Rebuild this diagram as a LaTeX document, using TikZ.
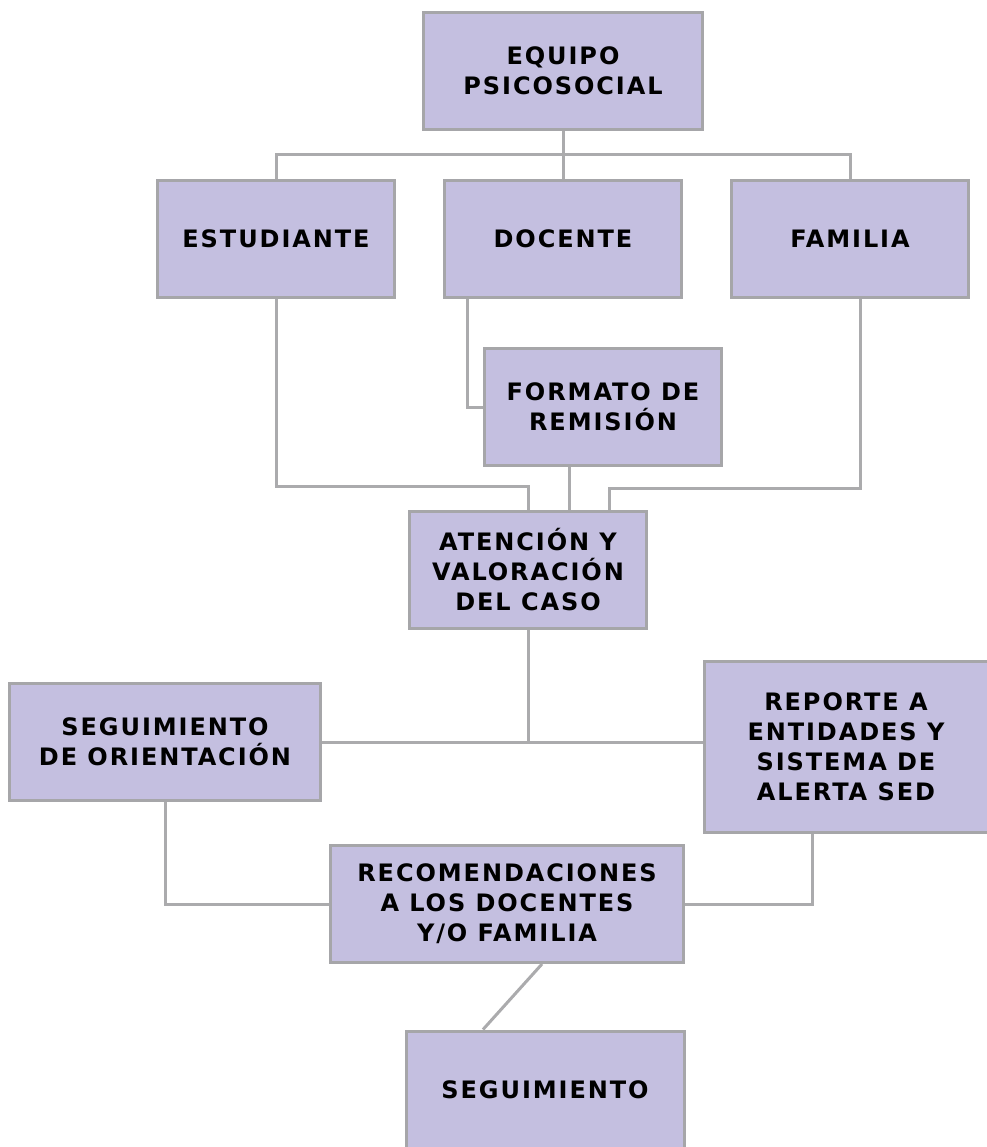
\documentclass[tikz,border=0pt]{standalone}
\usepackage{fontspec}
\newfontfamily\boxfont[LetterSpace=8]{DejaVu Sans}
\definecolor{boxfill}{HTML}{C4BFE0}
\definecolor{boxline}{HTML}{A6A6A9}
\definecolor{linkgray}{HTML}{ABABAD}
\begin{document}
\begin{tikzpicture}[x=1pt,y=-1pt,
    box/.style={draw=boxline,fill=boxfill,line width=3pt,align=center,
      inner sep=0pt,font=\boxfont\bfseries\fontsize{24}{30}\selectfont},
    link/.style={draw=linkgray,line width=3pt}]
  \fill[white] (0,0) rectangle (986,1147);
  \useasboundingbox (0,0) rectangle (986,1147);
  % boxes
  \node[box,minimum width=279pt,minimum height=117pt] (equipo) at (563,71) {EQUIPO\\PSICOSOCIAL};
  \node[box,minimum width=237pt,minimum height=117pt] (estudiante) at (276,239) {ESTUDIANTE};
  \node[box,minimum width=237pt,minimum height=117pt] (docente) at (563,239) {DOCENTE};
  \node[box,minimum width=237pt,minimum height=117pt] (familia) at (850,239) {FAMILIA};
  \node[box,minimum width=237pt,minimum height=117pt] (formato) at (603,407) {FORMATO DE\\REMISIÓN};
  \node[box,minimum width=237pt,minimum height=117pt] (atencion) at (528,570) {ATENCIÓN Y\\VALORACIÓN\\DEL CASO};
  \node[box,minimum width=311pt,minimum height=117pt] (orientacion) at (165,742) {SEGUIMIENTO\\DE ORIENTACIÓN};
  \node[box,minimum width=284pt,minimum height=171pt] (reporte) at (846,747) {REPORTE A\\ENTIDADES Y\\SISTEMA DE\\ALERTA SED};
  \node[box,minimum width=353pt,minimum height=117pt] (recomend) at (507,904) {RECOMENDACIONES\\A LOS DOCENTES\\Y/O FAMILIA};
  \node[box,minimum width=278pt,minimum height=118pt] (seguim) at (545,1090) {SEGUIMIENTO};
  % junctions
  \coordinate (bus) at (563,155);
  \coordinate (jl) at (528,486);
  \coordinate (jm) at (569,0);
  \coordinate (jr) at (609,488);
  % connectors
  \begin{scope}[link]
    \draw (equipo.south) -- (docente.north);
    \draw (estudiante.north) |- (bus) -| (familia.north);
    \draw ([xshift=24pt]docente.south west) |- (formato.west);
    \draw (estudiante.south) |- (jl) -- (jl |- atencion.north);
    \draw (formato.south -| jm) -- (atencion.north -| jm);
    \draw ([xshift=10pt]familia.south) |- (jr) -- (jr |- atencion.north);
    \draw (atencion.south) -- (atencion.south |- orientacion.east);
    \draw (orientacion.east) -- (orientacion.east -| reporte.west);
    \draw (orientacion.south) |- (recomend.west);
    \draw ([xshift=-34pt]reporte.south) |- (recomend.east);
    \draw ([xshift=35pt]recomend.south) -- ([xshift=-62pt]seguim.north);
  \end{scope}
\end{tikzpicture}
\end{document}
